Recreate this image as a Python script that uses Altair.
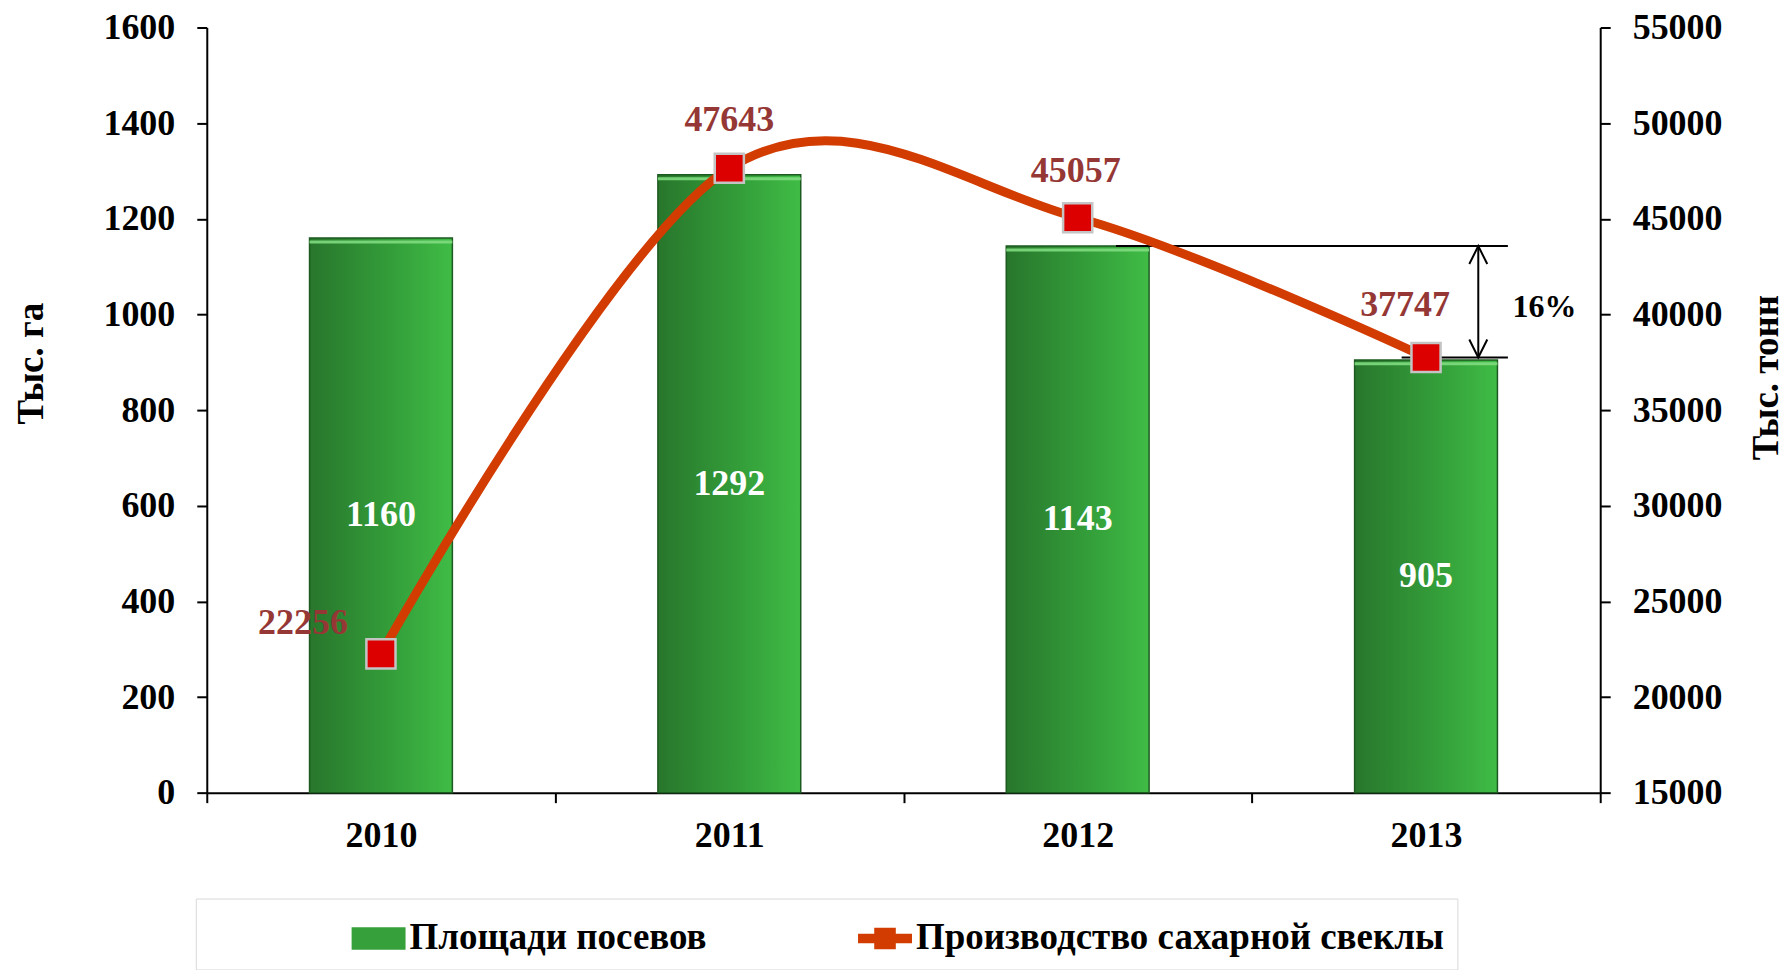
import altair as alt
import pandas as pd

# ---------------- data ----------------
years = [2010, 2011, 2012, 2013]
sown_area = [1160, 1292, 1143, 905]                 # тыс. га
beet_production = [22256, 47643, 45057, 37747]      # тыс. тонн
series_names = ["Площади посевов", "Производство сахарной свеклы"]

left_ticks = [0, 200, 400, 600, 800, 1000, 1200, 1400, 1600]
right_ticks = [15000, 20000, 25000, 30000, 35000, 40000, 45000, 50000, 55000]
x_ticks = [2009.5, 2010, 2010.5, 2011, 2011.5, 2012, 2012.5, 2013, 2013.5]

# "16%" drop annotation (in production units, x in years)
note_from = [2012.11, 2012.93]
note_to = [2013.235, 2013.235]
note_level = [43575, 37747]
note_arrow_x = [2013.15]
note_text = ["16%"]
note_text_x = [2013.34]
note_text_y = [40365]

FONT = "Liberation Serif"
BAR_HALF = 0.205

df = pd.DataFrame({"year": years, "area": sown_area, "prod": beet_production})
notes = pd.DataFrame({"x": note_from, "x2": note_to, "y": note_level})
arrow = pd.DataFrame({"x": note_arrow_x * 2, "y": note_level})
pct = pd.DataFrame({"x": note_text_x, "y": note_text_y, "t": note_text})
legend_df = pd.DataFrame({"series": series_names})

x_scale = alt.Scale(domain=[2009.5, 2013.5], nice=False, zero=False)
y_left_scale = alt.Scale(domain=[0, 1600], nice=False)
y_right_scale = alt.Scale(domain=[15000, 55000], nice=False, zero=False)

x_axis = alt.Axis(
    values=x_ticks, title=None, grid=False,
    labelExpr="datum.value % 1 == 0 ? format(datum.value, 'd') : ''",
    labelOverlap=False, labelFlush=False,
    tickOpacity={"condition": {"test": "datum.value % 1 == 0", "value": 0}, "value": 1},
    tickSize=10, labelPadding=16,
)
left_axis = alt.Axis(values=left_ticks, format="d", title="Тыс. га", orient="left",
                     tickSize=10, labelPadding=22, titlePadding=52, titleY=336,
                     grid=False)
right_axis = alt.Axis(values=right_ticks, format="d", title="Тыс. тонн", orient="right",
                      tickSize=10, labelPadding=22, titleAngle=270,
                      titleBaseline="middle", titleAlign="center",
                      titleX=166, titleY=350, grid=False)

X = lambda f: alt.X(f, scale=x_scale, axis=x_axis)

bar_fill = alt.Gradient(
    gradient="linear", x1=0, x2=1, y1=0, y2=0,
    stops=[alt.GradientStop(color="#28762c", offset=0),
           alt.GradientStop(color="#34a03a", offset=0.6),
           alt.GradientStop(color="#40bc46", offset=1)],
)

bar_base = alt.Chart(df).transform_calculate(
    x0=f"datum.year - {BAR_HALF}", x1=f"datum.year + {BAR_HALF}"
)
bars = bar_base.mark_bar(fill=bar_fill, stroke="#1d5a20", strokeWidth=1.5).encode(
    x=X("x0:Q"), x2="x1:Q",
    y=alt.Y("area:Q", scale=y_left_scale, axis=left_axis),
    y2=alt.datum(0),
)
bar_shine = bar_base.mark_rule(color="#7fdc80", strokeWidth=3, yOffset=4,
                               opacity=0.9).encode(
    x=X("x0:Q"), x2="x1:Q",
    y=alt.Y("area:Q", scale=y_left_scale, axis=None),
)

bar_labels = alt.Chart(df).transform_calculate(mid="datum.area / 2").mark_text(
    font=FONT, fontSize=36, fontWeight="bold", color="white", baseline="middle"
).encode(
    x=X("year:Q"),
    y=alt.Y("mid:Q", scale=y_left_scale, axis=None),
    text=alt.Text("area:Q", format="d"),
)

note_lines = alt.Chart(notes).mark_rule(color="black", strokeWidth=2).encode(
    x=X("x:Q"), x2="x2:Q",
    y=alt.Y("y:Q", scale=y_right_scale, axis=None),
)
arrow_line = alt.Chart(arrow).mark_line(color="black", strokeWidth=2).encode(
    x=X("x:Q"), y=alt.Y("y:Q", scale=y_right_scale, axis=None),
)
arrow_up = alt.Chart(arrow.iloc[[0]]).mark_point(
    shape="M-1,2L0,0L1,2", size=324, filled=False, stroke="black", strokeWidth=2, opacity=1
).encode(x=X("x:Q"), y=alt.Y("y:Q", scale=y_right_scale, axis=None))
arrow_down = alt.Chart(arrow.iloc[[1]]).mark_point(
    shape="M-1,-2L0,0L1,-2", size=324, filled=False, stroke="black", strokeWidth=2, opacity=1
).encode(x=X("x:Q"), y=alt.Y("y:Q", scale=y_right_scale, axis=None))
pct_text = alt.Chart(pct).mark_text(
    font=FONT, fontSize=32, fontWeight="bold", color="black", baseline="middle"
).encode(x=X("x:Q"), y=alt.Y("y:Q", scale=y_right_scale, axis=None), text="t:N")

line = alt.Chart(df).mark_line(
    color="#d23c00", strokeWidth=9, interpolate="cardinal"
).encode(
    x=X("year:Q"),
    y=alt.Y("prod:Q", scale=y_right_scale, axis=right_axis),
)
points = alt.Chart(df).mark_point(
    shape="square", filled=True, size=850, color="#dc0000",
    stroke="#c4c4c4", strokeWidth=2.5, opacity=1
).encode(x=X("year:Q"), y=alt.Y("prod:Q", scale=y_right_scale, axis=None))

label_offsets = {2010: (-78, -31), 2011: (0, -48), 2012: (-2, -47), 2013: (-21, -53)}
prod_labels = []
for yr, (ddx, ddy) in label_offsets.items():
    prod_labels.append(
        alt.Chart(df).transform_filter(f"datum.year == {yr}").mark_text(
            font=FONT, fontSize=36, fontWeight="bold", color="#953735",
            baseline="middle", dx=ddx, dy=ddy
        ).encode(
            x=X("year:Q"),
            y=alt.Y("prod:Q", scale=y_right_scale, axis=None),
            text=alt.Text("prod:Q", format="d"),
        )
    )

SYM_OFF = 143
legend_def = alt.Legend(
    title=None, orient="none", legendX=-11, legendY=872, direction="horizontal",
    symbolSize=2916, symbolOpacity=1,
    symbolStrokeWidth=0, symbolOffset=SYM_OFF, labelOffset=4,
    columnPadding=8, padding=13, labelFont=FONT, labelFontSize=37,
    labelFontWeight="bold", labelColor="black", labelLimit=800,
    strokeColor="#d9d9d9", fillColor="white",
)
legend_shapes = [
    "M-1,-0.42H1V0.42H-1Z",
    "M-1,-0.18H-0.4V-0.4H0.4V-0.18H1V0.18H0.4V0.4H-0.4V0.18H-1Z",
]
legend_layer = alt.Chart(legend_df).mark_point(opacity=0, filled=True).encode(
    x=alt.value(0), y=alt.value(0),
    color=alt.Color(
        "series:N",
        scale=alt.Scale(domain=series_names, range=["#36a03b", "#d23c00"]),
        legend=legend_def,
    ),
    shape=alt.Shape(
        "series:N",
        scale=alt.Scale(domain=series_names, range=legend_shapes),
        legend=legend_def,
    ),
)

chart = alt.layer(
    bars, bar_shine, bar_labels, note_lines, arrow_line, arrow_up, arrow_down, pct_text,
    line, points, *prod_labels, legend_layer
).resolve_scale(y="independent").properties(
    width=1395, height=766,
    padding={"left": 5, "top": 1, "right": 0, "bottom": 0},
).configure_view(stroke=None).configure_axis(
    labelFont=FONT, labelFontSize=36, labelFontWeight="bold", labelColor="black",
    titleFont=FONT, titleFontSize=37, titleFontWeight="bold", titleColor="black",
    domainColor="black", domainWidth=2, tickColor="black", tickWidth=2,
)

chart.save("out.html", embed_options={"renderer": "svg", "actions": False})
